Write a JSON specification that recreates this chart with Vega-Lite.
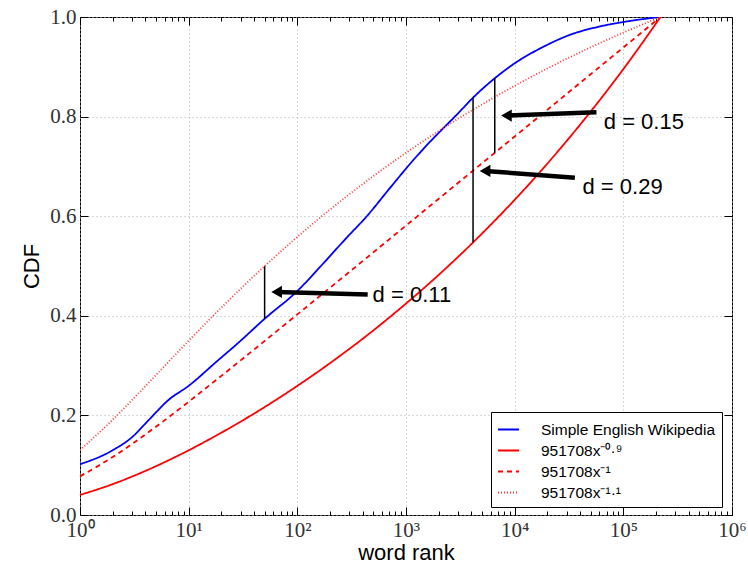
{
  "$schema": "https://vega.github.io/schema/vega-lite/v6.json",
  "width": 652,
  "height": 498,
  "autosize": "none",
  "padding": {"left": 80, "top": 17, "right": 16, "bottom": 48},
  "background": "white",
  "config": {
    "view": {"stroke": "#000000", "strokeWidth": 1},
    "axis": {"labelFont": "Liberation Serif", "labelFontSize": 21, "labelColor": "#333333", "titleFont": "Liberation Sans", "titleFontSize": 22, "titleFontWeight": "normal", "titleColor": "#000000", "domain": false, "tickColor": "#000000", "gridColor": "#b0b0b0", "gridDash": [1, 3], "gridWidth": 1}
  },
  "resolve": {"axis": {"x": "independent", "y": "independent"}},
  "datasets": {
    "curves": [
      {"series": "Simple English Wikipedia", "rank": 1, "cdf": 0.102},
      {"series": "Simple English Wikipedia", "rank": 2, "cdf": 0.130},
      {"series": "Simple English Wikipedia", "rank": 3, "cdf": 0.156},
      {"series": "Simple English Wikipedia", "rank": 4.3, "cdf": 0.191},
      {"series": "Simple English Wikipedia", "rank": 6.6, "cdf": 0.232},
      {"series": "Simple English Wikipedia", "rank": 9.8, "cdf": 0.258},
      {"series": "Simple English Wikipedia", "rank": 18.5, "cdf": 0.310},
      {"series": "Simple English Wikipedia", "rank": 29.4, "cdf": 0.348},
      {"series": "Simple English Wikipedia", "rank": 50, "cdf": 0.394},
      {"series": "Simple English Wikipedia", "rank": 98, "cdf": 0.448},
      {"series": "Simple English Wikipedia", "rank": 185, "cdf": 0.512},
      {"series": "Simple English Wikipedia", "rank": 282, "cdf": 0.556},
      {"series": "Simple English Wikipedia", "rank": 432, "cdf": 0.599},
      {"series": "Simple English Wikipedia", "rank": 708, "cdf": 0.656},
      {"series": "Simple English Wikipedia", "rank": 1160, "cdf": 0.712},
      {"series": "Simple English Wikipedia", "rank": 1486, "cdf": 0.738},
      {"series": "Simple English Wikipedia", "rank": 3120, "cdf": 0.810},
      {"series": "Simple English Wikipedia", "rank": 4140, "cdf": 0.838},
      {"series": "Simple English Wikipedia", "rank": 6560, "cdf": 0.877},
      {"series": "Simple English Wikipedia", "rank": 10000, "cdf": 0.907},
      {"series": "Simple English Wikipedia", "rank": 18300, "cdf": 0.940},
      {"series": "Simple English Wikipedia", "rank": 32100, "cdf": 0.964},
      {"series": "Simple English Wikipedia", "rank": 60800, "cdf": 0.981},
      {"series": "Simple English Wikipedia", "rank": 107000, "cdf": 0.991},
      {"series": "Simple English Wikipedia", "rank": 220000, "cdf": 1.0},
      {"series": "951708x⁻⁰·⁹", "rank": 1, "cdf": 0.0403},
      {"series": "951708x⁻⁰·⁹", "rank": 2, "cdf": 0.0620},
      {"series": "951708x⁻⁰·⁹", "rank": 3, "cdf": 0.0770},
      {"series": "951708x⁻⁰·⁹", "rank": 5, "cdf": 0.0980},
      {"series": "951708x⁻⁰·⁹", "rank": 10, "cdf": 0.1299},
      {"series": "951708x⁻⁰·⁹", "rank": 20, "cdf": 0.1653},
      {"series": "951708x⁻⁰·⁹", "rank": 50, "cdf": 0.2167},
      {"series": "951708x⁻⁰·⁹", "rank": 100, "cdf": 0.2593},
      {"series": "951708x⁻⁰·⁹", "rank": 200, "cdf": 0.3050},
      {"series": "951708x⁻⁰·⁹", "rank": 500, "cdf": 0.3706},
      {"series": "951708x⁻⁰·⁹", "rank": 1000, "cdf": 0.4246},
      {"series": "951708x⁻⁰·⁹", "rank": 2000, "cdf": 0.4822},
      {"series": "951708x⁻⁰·⁹", "rank": 5000, "cdf": 0.5651},
      {"series": "951708x⁻⁰·⁹", "rank": 10000, "cdf": 0.6329},
      {"series": "951708x⁻⁰·⁹", "rank": 20000, "cdf": 0.7057},
      {"series": "951708x⁻⁰·⁹", "rank": 50000, "cdf": 0.8100},
      {"series": "951708x⁻⁰·⁹", "rank": 100000, "cdf": 0.8953},
      {"series": "951708x⁻⁰·⁹", "rank": 220000, "cdf": 1.0},
      {"series": "951708x⁻¹", "rank": 1, "cdf": 0.0776},
      {"series": "951708x⁻¹", "rank": 2, "cdf": 0.1165},
      {"series": "951708x⁻¹", "rank": 3, "cdf": 0.1424},
      {"series": "951708x⁻¹", "rank": 5, "cdf": 0.1773},
      {"series": "951708x⁻¹", "rank": 10, "cdf": 0.2274},
      {"series": "951708x⁻¹", "rank": 20, "cdf": 0.2794},
      {"series": "951708x⁻¹", "rank": 50, "cdf": 0.3494},
      {"series": "951708x⁻¹", "rank": 100, "cdf": 0.4028},
      {"series": "951708x⁻¹", "rank": 200, "cdf": 0.4564},
      {"series": "951708x⁻¹", "rank": 500, "cdf": 0.5274},
      {"series": "951708x⁻¹", "rank": 1000, "cdf": 0.5812},
      {"series": "951708x⁻¹", "rank": 2000, "cdf": 0.6350},
      {"series": "951708x⁻¹", "rank": 5000, "cdf": 0.7062},
      {"series": "951708x⁻¹", "rank": 10000, "cdf": 0.7600},
      {"series": "951708x⁻¹", "rank": 20000, "cdf": 0.8138},
      {"series": "951708x⁻¹", "rank": 50000, "cdf": 0.8850},
      {"series": "951708x⁻¹", "rank": 100000, "cdf": 0.9388},
      {"series": "951708x⁻¹", "rank": 220000, "cdf": 1.0},
      {"series": "951708x⁻¹·¹", "rank": 1, "cdf": 0.1305},
      {"series": "951708x⁻¹·¹", "rank": 2, "cdf": 0.1914},
      {"series": "951708x⁻¹·¹", "rank": 3, "cdf": 0.2304},
      {"series": "951708x⁻¹·¹", "rank": 5, "cdf": 0.2810},
      {"series": "951708x⁻¹·¹", "rank": 10, "cdf": 0.3498},
      {"series": "951708x⁻¹·¹", "rank": 20, "cdf": 0.4166},
      {"series": "951708x⁻¹·¹", "rank": 50, "cdf": 0.4997},
      {"series": "951708x⁻¹·¹", "rank": 100, "cdf": 0.5584},
      {"series": "951708x⁻¹·¹", "rank": 200, "cdf": 0.6133},
      {"series": "951708x⁻¹·¹", "rank": 500, "cdf": 0.6804},
      {"series": "951708x⁻¹·¹", "rank": 1000, "cdf": 0.7273},
      {"series": "951708x⁻¹·¹", "rank": 2000, "cdf": 0.7711},
      {"series": "951708x⁻¹·¹", "rank": 5000, "cdf": 0.8245},
      {"series": "951708x⁻¹·¹", "rank": 10000, "cdf": 0.8618},
      {"series": "951708x⁻¹·¹", "rank": 20000, "cdf": 0.8966},
      {"series": "951708x⁻¹·¹", "rank": 50000, "cdf": 0.9391},
      {"series": "951708x⁻¹·¹", "rank": 100000, "cdf": 0.9687},
      {"series": "951708x⁻¹·¹", "rank": 220000, "cdf": 1.0}
    ],
    "dlines": [
      {"rank": 50, "lo": 0.394, "hi": 0.4997},
      {"rank": 4140, "lo": 0.5474, "hi": 0.838},
      {"rank": 6560, "lo": 0.7273, "hi": 0.877}
    ],
    "arrows": [
      {"label": "d = 0.11", "tail_rank": 444, "tail_cdf": 0.443, "head_rank": 64.5, "head_cdf": 0.448, "text_rank": 493, "text_cdf": 0.442},
      {"label": "d = 0.15", "tail_rank": 56600, "tail_cdf": 0.8086, "head_rank": 8400, "head_cdf": 0.802, "text_rank": 66100, "text_cdf": 0.790},
      {"label": "d = 0.29", "tail_rank": 35800, "tail_cdf": 0.677, "head_rank": 5340, "head_cdf": 0.691, "text_rank": 42100, "text_cdf": 0.658}
    ]
  },
  "layer": [
    {
      "data": {"name": "curves"},
      "mark": {"type": "line", "interpolate": "monotone", "clip": true},
      "encoding": {
        "x": {"field": "rank", "type": "quantitative",
          "scale": {"type": "log", "domain": [1, 1000000], "nice": false},
          "axis": {"title": "word rank", "titlePadding": -2, "labelPadding": 12, "labelFlush": false, "labelOverlap": false,
            "values": [1,2,3,4,5,6,7,8,9,10,20,30,40,50,60,70,80,90,100,200,300,400,500,600,700,800,900,1000,2000,3000,4000,5000,6000,7000,8000,9000,10000,20000,30000,40000,50000,60000,70000,80000,90000,100000,200000,300000,400000,500000,600000,700000,800000,900000,1000000],
            "labelExpr": "abs(log(datum.value)/LN10 - round(log(datum.value)/LN10)) < 0.001 ? '10' + ['⁰','¹','²','³','⁴','⁵','⁶'][round(log(datum.value)/LN10)] : ''",
            "tickSize": {"condition": {"test": "abs(log(datum.value)/LN10 - round(log(datum.value)/LN10)) < 0.001", "value": -8}, "value": -4},
            "gridOpacity": {"condition": {"test": "abs(log(datum.value)/LN10 - round(log(datum.value)/LN10)) < 0.001", "value": 1}, "value": 0}
          }},
        "y": {"field": "cdf", "type": "quantitative",
          "scale": {"domain": [0, 1], "nice": false},
          "axis": {"title": "CDF", "titlePadding": 6, "labelPadding": 12, "values": [0, 0.2, 0.4, 0.6, 0.8, 1.0], "format": ".1f", "tickSize": -8}},
        "color": {"field": "series", "type": "nominal",
          "scale": {"domain": ["Simple English Wikipedia", "951708x⁻⁰·⁹", "951708x⁻¹", "951708x⁻¹·¹"], "range": ["#0000ff", "#ff0000", "#ff0000", "#ff3333"]},
          "legend": {"title": null, "orient": "none", "legendX": 411, "legendY": 395, "strokeColor": "#000000", "fillColor": "#ffffff", "padding": 6, "cornerRadius": 0, "labelFont": "Liberation Sans", "labelFontSize": 15.5, "labelColor": "#000000", "labelOffset": 21, "labelLimit": 0, "symbolType": "stroke", "symbolSize": 441, "symbolStrokeWidth": 2, "rowPadding": 1}},
        "strokeDash": {"field": "series", "type": "nominal",
          "scale": {"domain": ["Simple English Wikipedia", "951708x⁻⁰·⁹", "951708x⁻¹", "951708x⁻¹·¹"], "range": [[1, 0], [1, 0], [5, 4], [1, 2]]},
          "legend": {"title": null}},
        "strokeWidth": {"field": "series", "type": "nominal",
          "scale": {"domain": ["Simple English Wikipedia", "951708x⁻⁰·⁹", "951708x⁻¹", "951708x⁻¹·¹"], "range": [1.8, 1.8, 1.8, 1.1]},
          "legend": null}
      }
    },
    {
      "data": {"name": "dlines"},
      "mark": {"type": "rule", "color": "#000000", "strokeWidth": 1.5},
      "encoding": {
        "x": {"field": "rank", "type": "quantitative", "axis": null},
        "y": {"field": "lo", "type": "quantitative", "axis": null},
        "y2": {"field": "hi"}
      }
    },
    {
      "data": {"name": "arrows"},
      "mark": {"type": "rule", "color": "#000000", "strokeWidth": 4.5},
      "encoding": {
        "x": {"field": "tail_rank", "type": "quantitative", "axis": null},
        "y": {"field": "tail_cdf", "type": "quantitative", "axis": null},
        "x2": {"field": "head_rank"},
        "y2": {"field": "head_cdf"}
      }
    },
    {
      "data": {"name": "arrows"},
      "mark": {"type": "point", "shape": "triangle-left", "filled": true, "color": "#000000", "opacity": 1, "size": 150},
      "encoding": {
        "x": {"field": "head_rank", "type": "quantitative", "axis": null},
        "y": {"field": "head_cdf", "type": "quantitative", "axis": null}
      }
    },
    {
      "data": {"name": "arrows"},
      "mark": {"type": "text", "align": "left", "baseline": "middle", "font": "Liberation Sans", "fontSize": 22, "color": "#000000"},
      "encoding": {
        "x": {"field": "text_rank", "type": "quantitative", "axis": null},
        "y": {"field": "text_cdf", "type": "quantitative", "axis": null},
        "text": {"field": "label", "type": "nominal"}
      }
    },
    {
      "data": {"name": "dlines"},
      "mark": {"type": "point", "opacity": 0},
      "encoding": {
        "x": {"field": "rank", "type": "quantitative",
          "axis": {"orient": "top", "title": null, "labels": false, "grid": false,
            "values": [1,2,3,4,5,6,7,8,9,10,20,30,40,50,60,70,80,90,100,200,300,400,500,600,700,800,900,1000,2000,3000,4000,5000,6000,7000,8000,9000,10000,20000,30000,40000,50000,60000,70000,80000,90000,100000,200000,300000,400000,500000,600000,700000,800000,900000,1000000],
            "tickSize": {"condition": {"test": "abs(log(datum.value)/LN10 - round(log(datum.value)/LN10)) < 0.001", "value": -8}, "value": -4}}},
        "y": {"field": "lo", "type": "quantitative",
          "axis": {"orient": "right", "title": null, "labels": false, "grid": false, "values": [0, 0.2, 0.4, 0.6, 0.8, 1.0], "tickSize": -8}}
      }
    }
  ]
}
